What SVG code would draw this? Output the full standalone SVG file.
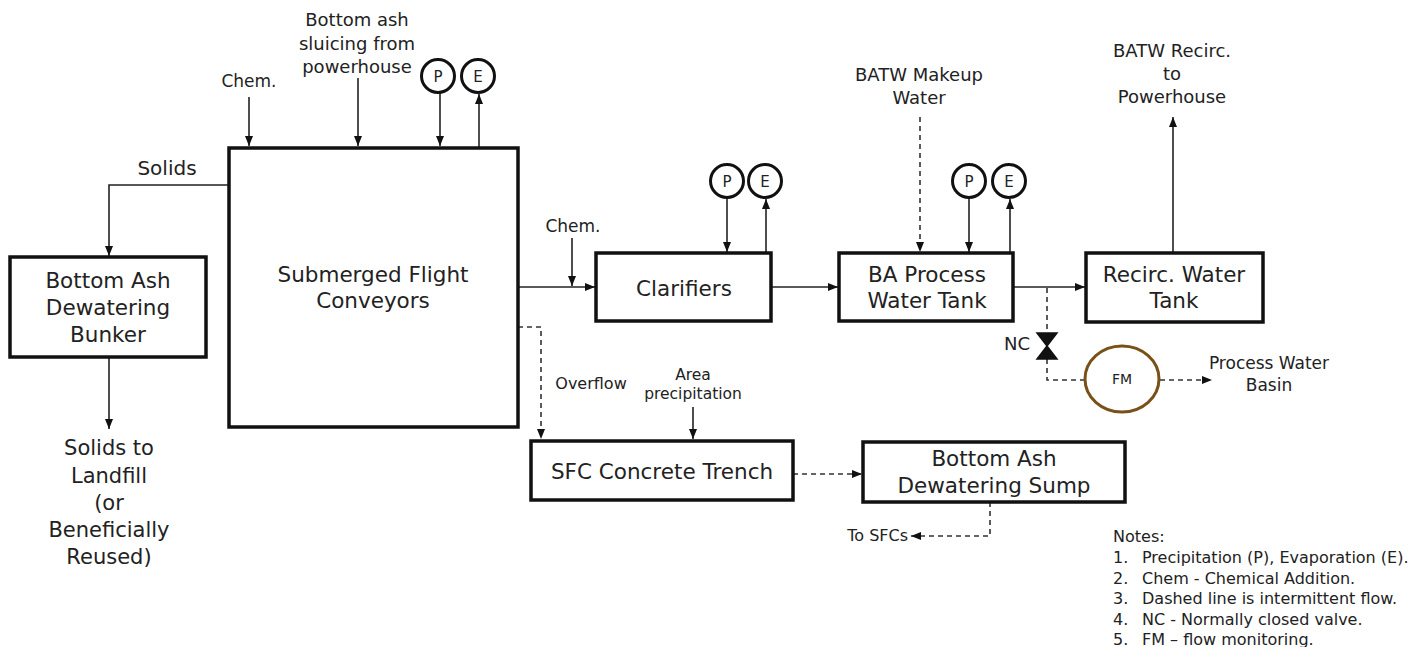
<svg xmlns="http://www.w3.org/2000/svg" width="1426" height="647" viewBox="0 0 1426 647">
<style>
text{font-family:"DejaVu Sans","Liberation Sans",sans-serif;fill:#222;text-anchor:middle}
.box{fill:#fff;stroke:#111;stroke-width:3.5}
.lbl{font-size:21.5px}
.sm{font-size:18px}
.xs{font-size:16px}
.pe{fill:#fff;stroke:#111;stroke-width:3}
.pet{font-size:15px}
.ln{fill:none;stroke:#222;stroke-width:1.6}
.ds{fill:none;stroke:#333;stroke-width:1.6;stroke-dasharray:5 4}
.note{font-size:16px;text-anchor:start}
</style>
<defs>
<marker id="ah" markerWidth="10" markerHeight="8" refX="10" refY="4" orient="auto" markerUnits="userSpaceOnUse"><path d="M0,0 L10,4 L0,8 z" fill="#111"/></marker>
</defs>
<rect width="1426" height="647" fill="#fff"/>

<g id="connectors">
<path class="ln" d="M229,185 H109 V256" marker-end="url(#ah)"/>
<path class="ln" d="M109,357 V429" marker-end="url(#ah)"/>
<path class="ln" d="M249,97 V146" marker-end="url(#ah)"/>
<path class="ln" d="M358,78 V146" marker-end="url(#ah)"/>
<path class="ln" d="M440,93 V146" marker-end="url(#ah)"/>
<path class="ln" d="M479,148 V94" marker-end="url(#ah)"/>
<path class="ln" d="M518,287 H595" marker-end="url(#ah)"/>
<path class="ln" d="M572,238 V286" marker-end="url(#ah)"/>
<path class="ln" d="M727,198 V252" marker-end="url(#ah)"/>
<path class="ln" d="M766,253 V199" marker-end="url(#ah)"/>
<path class="ln" d="M771,287 H838" marker-end="url(#ah)"/>
<path class="ds" d="M920,117 V252" marker-end="url(#ah)"/>
<path class="ln" d="M969,198 V252" marker-end="url(#ah)"/>
<path class="ln" d="M1010,253 V199" marker-end="url(#ah)"/>
<path class="ln" d="M1013,287 H1085" marker-end="url(#ah)"/>
<path class="ln" d="M1173,253 V117" marker-end="url(#ah)"/>
<path class="ds" d="M1047,288 V333"/>
<path class="ds" d="M1047,359 V380 H1085"/>
<path class="ds" d="M1160,380 H1212" marker-end="url(#ah)"/>
<path class="ds" d="M518,327 H541 V439" marker-end="url(#ah)"/>
<path class="ln" d="M693,407 V439" marker-end="url(#ah)"/>
<path class="ds" d="M793,474 H862" marker-end="url(#ah)"/>
<path class="ds" d="M990,502 V536 H911" marker-end="url(#ah)"/>
</g>

<g id="bunker">
<rect class="box" x="10" y="257" width="196" height="100"/>
<text class="lbl" x="108" y="288">Bottom Ash</text>
<text class="lbl" x="108" y="315">Dewatering</text>
<text class="lbl" x="108" y="342">Bunker</text>
</g>

<g id="sfc">
<rect class="box" x="229" y="148" width="289" height="279"/>
<text class="lbl" x="373" y="282">Submerged Flight</text>
<text class="lbl" x="373" y="308">Conveyors</text>
</g>

<g id="clarifiers">
<rect class="box" x="596" y="253" width="175" height="68"/>
<text class="lbl" x="684" y="296">Clarifiers</text>
</g>

<g id="ba-tank">
<rect class="box" x="839" y="253" width="174" height="68"/>
<text class="lbl" x="927" y="282">BA Process</text>
<text class="lbl" x="927" y="308">Water Tank</text>
</g>

<g id="recirc-tank">
<rect class="box" x="1086" y="253" width="177" height="69"/>
<text class="lbl" x="1174" y="282">Recirc. Water</text>
<text class="lbl" x="1174" y="308">Tank</text>
</g>

<g id="trench">
<rect class="box" x="531" y="441" width="262" height="59"/>
<text class="lbl" x="662" y="479">SFC Concrete Trench</text>
</g>

<g id="sump">
<rect class="box" x="863" y="442" width="262" height="60"/>
<text class="lbl" x="994" y="466">Bottom Ash</text>
<text class="lbl" x="994" y="493">Dewatering Sump</text>
</g>

<g id="pe-sfc">
<circle class="pe" cx="438" cy="76" r="16.5"/><text class="pet" x="438" y="81.5">P</text>
<circle class="pe" cx="478" cy="76" r="16.5"/><text class="pet" x="478" y="81.5">E</text>
</g>
<g id="pe-clarifiers">
<circle class="pe" cx="727" cy="181" r="16.5"/><text class="pet" x="727" y="186.5">P</text>
<circle class="pe" cx="765" cy="181" r="16.5"/><text class="pet" x="765" y="186.5">E</text>
</g>
<g id="pe-batank">
<circle class="pe" cx="969" cy="181" r="16.5"/><text class="pet" x="969" y="186.5">P</text>
<circle class="pe" cx="1009" cy="181" r="16.5"/><text class="pet" x="1009" y="186.5">E</text>
</g>

<g id="valve">
<polygon points="1037,333 1057,333 1047,346" fill="#111" stroke="#111" stroke-width="1.5"/>
<polygon points="1037,359 1057,359 1047,346" fill="#111" stroke="#111" stroke-width="1.5"/>
<text class="sm" x="1017" y="350">NC</text>
</g>

<g id="fm">
<ellipse cx="1122" cy="379" rx="37" ry="33" fill="#fff" stroke="#7a5019" stroke-width="3"/>
<text x="1122" y="384" style="font-size:14px">FM</text>
</g>

<g id="labels">
<text class="sm" x="167" y="175" style="font-size:20px">Solids</text>
<text class="xs" x="249" y="87" style="font-size:17px">Chem.</text>
<text class="sm" x="357" y="26">Bottom ash</text>
<text class="sm" x="357" y="50">sluicing from</text>
<text class="sm" x="357" y="73">powerhouse</text>
<text class="xs" x="573" y="232" style="font-size:17px">Chem.</text>
<text class="sm" x="919" y="81">BATW Makeup</text>
<text class="sm" x="919" y="104">Water</text>
<text class="sm" x="1172" y="57">BATW Recirc.</text>
<text class="sm" x="1172" y="80">to</text>
<text class="sm" x="1172" y="103">Powerhouse</text>
<text class="xs" x="1269" y="369" style="font-size:17px">Process Water</text>
<text class="xs" x="1269" y="391" style="font-size:17px">Basin</text>
<text class="xs" x="591" y="389">Overflow</text>
<text x="693" y="380" style="font-size:15.5px">Area</text>
<text x="693" y="399" style="font-size:15.5px">precipitation</text>
<text class="xs" x="908" y="541" style="text-anchor:end">To SFCs</text>
<text class="lbl" x="109" y="455" style="font-size:21px">Solids to</text>
<text class="lbl" x="109" y="483" style="font-size:21px">Landfill</text>
<text class="lbl" x="109" y="510" style="font-size:21px">(or</text>
<text class="lbl" x="109" y="537" style="font-size:21px">Beneficially</text>
<text class="lbl" x="109" y="564" style="font-size:21px">Reused)</text>
</g>

<g id="notes">
<text class="note" x="1113" y="542">Notes:</text>
<text class="note" x="1113" y="563">1.</text><text class="note" x="1142" y="563">Precipitation (P), Evaporation (E).</text>
<text class="note" x="1113" y="584">2.</text><text class="note" x="1142" y="584">Chem - Chemical Addition.</text>
<text class="note" x="1113" y="604">3.</text><text class="note" x="1142" y="604">Dashed line is intermittent flow.</text>
<text class="note" x="1113" y="625">4.</text><text class="note" x="1142" y="625">NC - Normally closed valve.</text>
<text class="note" x="1113" y="645">5.</text><text class="note" x="1142" y="645">FM – flow monitoring.</text>
</g>
</svg>
